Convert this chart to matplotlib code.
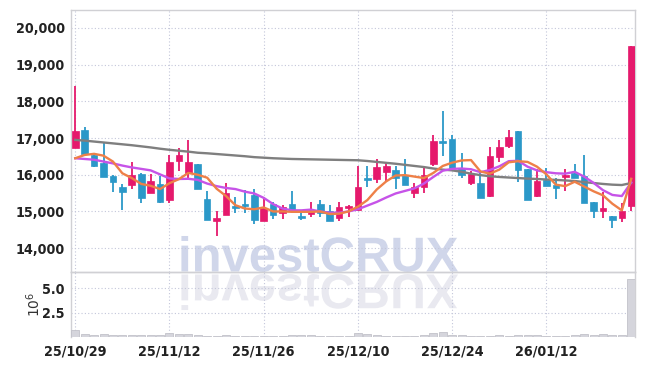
import matplotlib
matplotlib.use("Agg")
import matplotlib.pyplot as plt
import numpy as np
from matplotlib import font_manager as fm
from matplotlib.textpath import TextPath
from matplotlib.patches import PathPatch
from matplotlib.transforms import Affine2D, IdentityTransform

# ---------------- data ----------------
dates = ["25/10/29", "25/10/30", "25/10/31", "25/11/03", "25/11/04", "25/11/05", "25/11/06", "25/11/07",
         "25/11/10", "25/11/11", "25/11/12", "25/11/13", "25/11/14", "25/11/17", "25/11/18", "25/11/19",
         "25/11/20", "25/11/21", "25/11/24", "25/11/25", "25/11/26", "25/11/27", "25/11/28", "25/12/01",
         "25/12/02", "25/12/03", "25/12/04", "25/12/05", "25/12/08", "25/12/09", "25/12/10", "25/12/11",
         "25/12/12", "25/12/15", "25/12/16", "25/12/17", "25/12/18", "25/12/19", "25/12/22", "25/12/23",
         "25/12/24", "25/12/26", "25/12/29", "25/12/30", "26/01/02", "26/01/05", "26/01/06", "26/01/07",
         "26/01/08", "26/01/09", "26/01/12", "26/01/13", "26/01/14", "26/01/15", "26/01/16", "26/01/19",
         "26/01/20", "26/01/21", "26/01/22", "26/01/23"]

opens = [16730, 17220, 16550, 16310, 15960, 15660, 15730, 16030, 15510, 15740,
         15320, 16380, 16050, 16280, 15330, 14750, 14910, 15160, 15160, 15440,
         14750, 15190, 14960, 15190, 14860, 14930, 15190, 15000, 14820, 15090,
         15050, 15890, 15890, 16070, 16140, 15980, 15500, 15680, 16290, 16890,
         16980, 16180, 15770, 15770, 15410, 16490, 16790, 17180, 16170, 15410,
         15850, 15730, 15930, 16060, 15970, 15260, 15020, 14880, 14810, 15140]
highs = [18410, 17300, 16560, 16870, 15980, 15740, 16350, 16050, 16020, 15960,
         16540, 16740, 16950, 16280, 15560, 15000, 15770, 15400, 15590, 15600,
         15360, 15270, 15180, 15560, 15050, 15270, 15320, 15180, 15270, 15180,
         16230, 16230, 16440, 16320, 16230, 16440, 15770, 16250, 17090, 17750,
         17090, 16590, 16090, 16050, 16750, 16950, 17220, 17180, 16170, 16150,
         16180, 15900, 16150, 16290, 16540, 15260, 15540, 14880, 15230, 19520]
lows = [16730, 16550, 16210, 15940, 15530, 15040, 15600, 15220, 15500, 15240,
        15220, 16100, 15870, 15610, 14760, 14320, 14900, 14950, 14960, 14660,
        14740, 14800, 14800, 15000, 14770, 14860, 14860, 14730, 14730, 14860,
        15000, 15680, 15770, 15820, 15620, 15710, 15360, 15500, 16230, 16500,
        16090, 15910, 15730, 15380, 15400, 16340, 16730, 15790, 15300, 15400,
        15700, 15340, 15550, 15900, 15220, 14820, 14820, 14560, 14700, 15000]
closes = [17180, 16560, 16230, 15940, 15810, 15540, 15990, 15370, 15820, 15260,
          16340, 16530, 16340, 15620, 14770, 14820, 15500, 15090, 15140, 14770,
          15090, 14890, 15130, 15050, 14820, 15050, 14950, 14750, 15130, 15140,
          15680, 15860, 16200, 16250, 15910, 15710, 15680, 16000, 16930, 16860,
          16180, 16000, 16020, 15380, 16520, 16760, 17040, 16140, 15320, 15840,
          15700, 15630, 15970, 15900, 15220, 15020, 15100, 14780, 15020, 19520]
volumes = [680000, 300000, 160000, 320000, 240000, 220000, 220000, 200000, 220000, 240000,
           420000, 300000, 260000, 160000, 140000, 140000, 220000, 140000, 120000, 100000,
           100000, 100000, 100000, 160000, 160000, 160000, 140000, 120000, 120000, 140000,
           420000, 260000, 180000, 140000, 140000, 120000, 120000, 200000, 420000, 520000,
           220000, 160000, 140000, 120000, 140000, 200000, 140000, 220000, 220000, 200000,
           120000, 120000, 120000, 220000, 320000, 180000, 320000, 220000, 160000, 6020000]
ma5 = [16450, 16540, 16570, 16520, 16360, 16040, 15910, 15750, 15700, 15610,
       15770, 15880, 16050, 16000, 15920, 15620, 15420, 15170, 15080, 15060,
       15110, 15000, 15000, 14990, 14990, 14990, 15000, 14930, 14940, 15000,
       15130, 15310, 15600, 15820, 15980, 15990, 15950, 15910, 16050, 16240,
       16330, 16390, 16400, 16090, 16030, 16140, 16340, 16370, 16350, 16220,
       16010, 15730, 15690, 15810, 15680, 15550, 15440, 15210, 15030, 15890]
ma10 = [16450, 16430, 16410, 16360, 16310, 16250, 16200, 16160, 16120, 16010,
        15900, 15885, 15890, 15860, 15760, 15690, 15640, 15610, 15540, 15490,
        15370, 15200, 15080, 15030, 15030, 15050, 15000, 14965, 14965, 15000,
        15060, 15160, 15260, 15380, 15490, 15560, 15630, 15760, 15940, 16110,
        16160, 16170, 16150, 16070, 16130, 16230, 16370, 16380, 16220, 16120,
        16070, 16040, 16030, 16080, 15950, 15780, 15580, 15450, 15420, 15790]
ma_long = [16950, 16930, 16905, 16880, 16855, 16830, 16805, 16775, 16745, 16710,
           16680, 16655, 16630, 16600, 16585, 16565, 16545, 16525, 16505, 16480,
           16465, 16450, 16440, 16430, 16425, 16420, 16415, 16410, 16405, 16400,
           16395, 16375, 16350, 16325, 16300, 16270, 16240, 16210, 16170, 16140,
           16120, 16080, 16030, 15990, 15960, 15940, 15925, 15910, 15895, 15885,
           15870, 15860, 15845, 15830, 15800, 15775, 15750, 15730, 15720, 15775]
price_ticks = [14000, 15000, 16000, 17000, 18000, 19000, 20000]
vol_ticks = [2.5, 5.0]
date_tick_every = 10

# ---------------- fonts ----------------
def find_condensed():
    cands = []
    for f in fm.fontManager.ttflist:
        fn = f.fname.lower()
        st = str(f.stretch).lower()
        if ("narrow" in fn or "condensed" in fn or "condensed" in st) and f.style == "normal":
            score = 0
            if "bold" in fn or f.weight in (600, 700, "bold", "semibold"):
                score += 2
            if "semi" in fn or "extra" in fn or "ultra" in fn:
                score -= 1
            if "dejavusans" in fn.replace("-", "").replace(" ", "") and "mono" not in fn:
                score += 1
            if "liberation" in fn:
                score += 3
            cands.append((score, f.fname))
    if cands:
        cands.sort(reverse=True)
        return cands[0][1]
    return None

cond = find_condensed()
if cond:
    tick_fp = fm.FontProperties(fname=cond, size=10.3)
else:
    tick_fp = fm.FontProperties(family="DejaVu Sans", weight="bold", size=9)

names = {f.name for f in fm.fontManager.ttflist}
wm_family = "Liberation Sans" if "Liberation Sans" in names else "DejaVu Sans"

UP = "#e5196c"
DOWN = "#2b98c8"
GRID = "#c3c6da"
SPINE = "#d0d0d4"
TXT = "#222222"

W, H = 645, 366
fig = plt.figure(figsize=(W / 100, H / 100), dpi=100)
fig.patch.set_facecolor("white")

L, R = 71, 635
T1, B1 = 10, 272
B2 = 337
ax = fig.add_axes([L / W, 1 - B1 / H, (R - L) / W, (B1 - T1) / H])
axv = fig.add_axes([L / W, 1 - B2 / H, (R - L) / W, (B2 - B1) / H], sharex=ax)
for a in (ax, axv):
    a.set_facecolor("none")
    for s in a.spines.values():
        s.set_color(SPINE)
        s.set_linewidth(1.0)
    a.grid(True, color=GRID, linestyle=(0, (1, 2)), linewidth=0.8)
    a.set_axisbelow(True)
    a.tick_params(length=0, labelcolor=TXT)

x = np.arange(len(closes))
o = np.array(opens, float)
c = np.array(closes, float)
h = np.array(highs, float)
l = np.array(lows, float)
up = c >= o
cols = np.where(up, UP, DOWN)

ax.vlines(x, l, h, colors=cols, linewidth=1.3, zorder=3)
bottom = np.minimum(o, c)
height = np.maximum(np.abs(c - o), 60)
ax.bar(x, height, bottom=bottom, width=0.7, color=cols, edgecolor=cols, linewidth=0.5, zorder=4)

ax.plot(x, ma_long, color="#7f7f7f", linewidth=1.7, zorder=5)
ax.plot(x, ma10, color="#c653e8", linewidth=1.7, zorder=6)
ax.plot(x, ma5, color="#ee8048", linewidth=1.7, zorder=7)

ax.set_xlim(-0.45, len(closes) - 0.6)
ax.set_ylim(13350, 20490)
ax.set_yticks(price_ticks)
ax.set_yticklabels([f"{v:,}" for v in price_ticks])
for t in ax.get_yticklabels():
    t.set_fontproperties(tick_fp)
ax.tick_params(axis="y", pad=4.5)
ax.tick_params(axis="x", labelbottom=False)

vol_m = np.array(volumes, float) / 1e6
axv.bar(x, vol_m, width=0.85, color="#d5d5dc", edgecolor="#c2c2ca", linewidth=0.6, zorder=3)
axv.set_ylim(0, 6.7)
axv.set_yticks(vol_ticks)
axv.set_yticklabels([f"{v:.1f}" for v in vol_ticks])
for t in axv.get_yticklabels():
    t.set_fontproperties(tick_fp)
axv.tick_params(axis="y", pad=4.5)
axv.set_ylabel(r"$10^{6}$", fontsize=10, color="#333333")
axv.yaxis.set_label_coords((43 - L) / (R - L), 0.5)
tick_pos = x[::date_tick_every]
axv.set_xticks(tick_pos)
axv.set_xticklabels([dates[i] for i in tick_pos])
for t in axv.get_xticklabels():
    t.set_fontproperties(tick_fp)
axv.tick_params(axis="x", pad=5.5)
axv.spines["bottom"].set_visible(False)

# watermark with reflection (pixel coordinates)
fp = fm.FontProperties(family=wm_family, weight="bold")
tp = TextPath((0, 0), "investCRUX", size=49, prop=fp)
base_y = H - 271.5
x0 = 178
main_tr = Affine2D().translate(x0, base_y)
refl_tr = Affine2D().scale(1, -1).translate(x0, base_y - 3)
p1 = PathPatch(main_tr.transform_path(tp), facecolor="#d0d6ea", edgecolor="none",
               transform=IdentityTransform(), zorder=-1)
p2 = PathPatch(refl_tr.transform_path(tp), facecolor="#e9e9f0", edgecolor="none",
               transform=IdentityTransform(), zorder=-1)
fig.add_artist(p1)
fig.add_artist(p2)

fig.savefig("out.png", dpi=100, facecolor="white")
